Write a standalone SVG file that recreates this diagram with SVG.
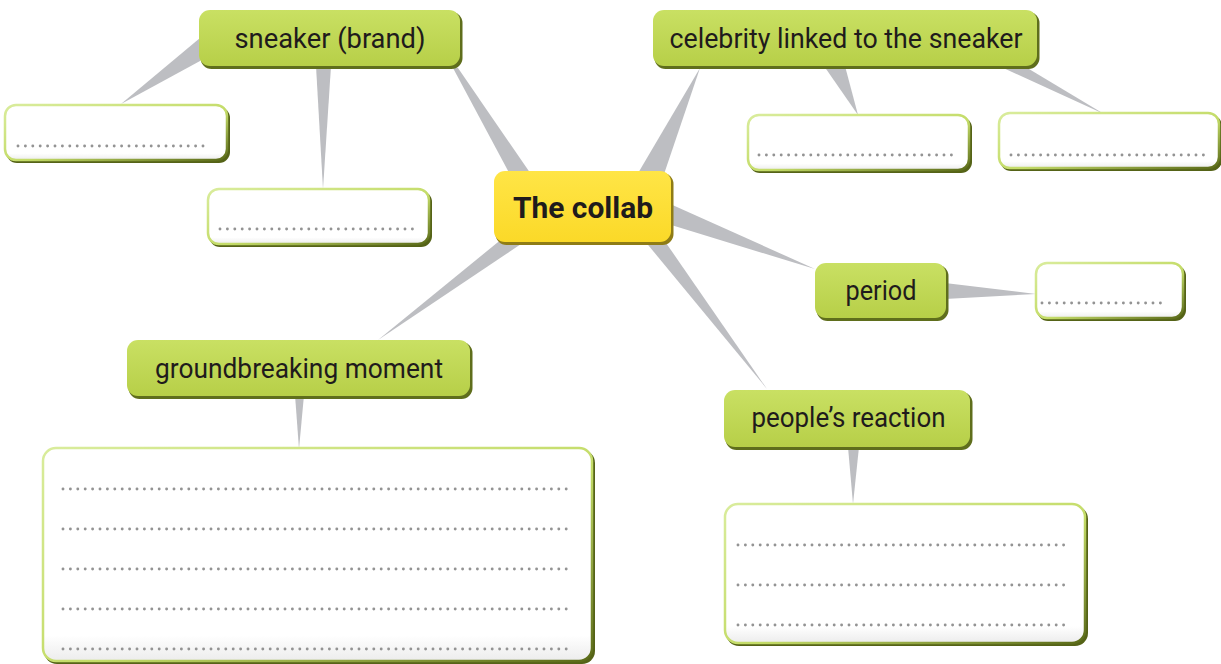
<svg xmlns="http://www.w3.org/2000/svg" width="1221" height="664" viewBox="0 0 1221 664">
<defs>
<linearGradient id="gfill" x1="0" y1="0" x2="0" y2="1">
<stop offset="0" stop-color="#c9e063"/>
<stop offset="1" stop-color="#b7cf48"/>
</linearGradient>
<linearGradient id="yfill" x1="0" y1="0" x2="0" y2="1">
<stop offset="0" stop-color="#ffe546"/>
<stop offset="1" stop-color="#fbd928"/>
</linearGradient>
<linearGradient id="bstroke" x1="0" y1="0" x2="1" y2="1">
<stop offset="0" stop-color="#d9ec9c"/>
<stop offset="0.55" stop-color="#c4dc68"/>
<stop offset="1" stop-color="#5a6a18"/>
</linearGradient>
<linearGradient id="wfill" x1="0" y1="0" x2="0" y2="1">
<stop offset="0" stop-color="#ffffff"/>
<stop offset="0.88" stop-color="#ffffff"/>
<stop offset="1" stop-color="#ececec"/>
</linearGradient>
</defs>
<style>
.wedge{fill:#bdbec2}
.gsh{fill:#5f6e1c}
.g{fill:url(#gfill)}
.ysh{fill:#8f7c16}
.y{fill:url(#yfill)}
.wsh{fill:#556317}
.w{fill:url(#wfill);stroke:url(#bstroke);stroke-width:2.5}
.t{font-family:Roboto,"Liberation Sans",sans-serif;font-size:27px;fill:#1f1b1c;text-anchor:middle}
.tb{font-family:Roboto,"Liberation Sans",sans-serif;font-size:29px;font-weight:bold;fill:#1f1b1c;text-anchor:middle}
.dots{stroke:#939393;stroke-width:2.9;stroke-linecap:round;stroke-dasharray:0 7.4;fill:none}
</style>

<g id="connectors">
<polygon class="wedge" points="200,38 200,61 121,104"/>
<polygon class="wedge" points="316,66 331,66 323,189"/>
<polygon class="wedge" points="453,68 458,68 535,180 513,180"/>
<polygon class="wedge" points="634,180 662,180 700,68"/>
<polygon class="wedge" points="824,66 845,66 858,115"/>
<polygon class="wedge" points="999,66 1024,66 1104,114"/>
<polygon class="wedge" points="668,203 668,224 815,269"/>
<polygon class="wedge" points="945,283 945,299 1036,294"/>
<polygon class="wedge" points="644,240 664,240 767,389"/>
<polygon class="wedge" points="503,238 530,238 378,340"/>
<polygon class="wedge" points="295,395 304,395 299,449"/>
<polygon class="wedge" points="848,447 859,447 853,504"/>
</g>

<g id="collab">
<rect class="ysh" x="495.5" y="173" width="178" height="72" rx="11"/>
<rect class="y" x="494" y="171" width="177" height="71" rx="11"/>
<text class="tb" x="583" y="218" textLength="140" lengthAdjust="spacingAndGlyphs">The collab</text>
</g>

<g id="sneaker">
<rect class="gsh" x="200.5" y="12" width="262" height="57" rx="11"/>
<rect class="g" x="199" y="10" width="261" height="56" rx="11"/>
<text class="t" x="330" y="48" textLength="191" lengthAdjust="spacingAndGlyphs">sneaker (brand)</text>
</g>

<g id="sneaker-box1">
<rect class="wsh" x="6" y="107" width="224" height="56" rx="11"/>
<rect class="w" x="5" y="105" width="222" height="55" rx="11"/>
<line class="dots" x1="18" y1="146" x2="210" y2="146"/>
</g>

<g id="sneaker-box2">
<rect class="wsh" x="209" y="191" width="223" height="56" rx="11"/>
<rect class="w" x="208" y="189" width="221" height="55" rx="11"/>
<line class="dots" x1="220" y1="229" x2="413" y2="229"/>
</g>

<g id="celebrity">
<rect class="gsh" x="654.5" y="12" width="385" height="57" rx="11"/>
<rect class="g" x="653" y="10" width="384" height="56" rx="11"/>
<text class="t" x="846" y="48" textLength="353" lengthAdjust="spacingAndGlyphs">celebrity linked to the sneaker</text>
</g>

<g id="celebrity-box1">
<rect class="wsh" x="749" y="117" width="223" height="56" rx="11"/>
<rect class="w" x="748" y="115" width="221" height="55" rx="11"/>
<line class="dots" x1="759" y1="155" x2="954" y2="155"/>
</g>

<g id="celebrity-box2">
<rect class="wsh" x="1000" y="115" width="222" height="56" rx="11"/>
<rect class="w" x="999" y="113" width="220" height="55" rx="11"/>
<line class="dots" x1="1011" y1="155" x2="1205" y2="155"/>
</g>

<g id="period">
<rect class="gsh" x="816.5" y="265" width="132" height="56" rx="11"/>
<rect class="g" x="815" y="263" width="131" height="55" rx="11"/>
<text class="t" x="881" y="300" textLength="71" lengthAdjust="spacingAndGlyphs">period</text>
</g>

<g id="period-box">
<rect class="wsh" x="1037" y="265" width="149" height="56" rx="11"/>
<rect class="w" x="1036" y="263" width="147" height="55" rx="11"/>
<line class="dots" x1="1042" y1="303" x2="1166" y2="303"/>
</g>

<g id="reaction">
<rect class="gsh" x="725.5" y="392" width="247" height="58" rx="11"/>
<rect class="g" x="724" y="390" width="246" height="57" rx="11"/>
<text class="t" x="848.5" y="427" textLength="194" lengthAdjust="spacingAndGlyphs">people’s reaction</text>
</g>

<g id="reaction-box">
<rect class="wsh" x="726" y="506" width="362" height="140" rx="13"/>
<rect class="w" x="725" y="504" width="360" height="139" rx="13"/>
<line class="dots" x1="738" y1="545" x2="1070" y2="545"/>
<line class="dots" x1="738" y1="585" x2="1070" y2="585"/>
<line class="dots" x1="738" y1="625" x2="1070" y2="625"/>
</g>

<g id="groundbreaking">
<rect class="gsh" x="128.5" y="342" width="344" height="57" rx="11"/>
<rect class="g" x="127" y="340" width="343" height="56" rx="11"/>
<text class="t" x="299" y="378" textLength="288" lengthAdjust="spacingAndGlyphs">groundbreaking moment</text>
</g>

<g id="groundbreaking-box">
<rect class="wsh" x="44" y="450" width="551" height="214" rx="13"/>
<rect class="w" x="43" y="448" width="549" height="213" rx="13"/>
<line class="dots" x1="63" y1="489" x2="572" y2="489"/>
<line class="dots" x1="63" y1="529" x2="572" y2="529"/>
<line class="dots" x1="63" y1="569" x2="572" y2="569"/>
<line class="dots" x1="63" y1="609" x2="572" y2="609"/>
<line class="dots" x1="63" y1="649" x2="572" y2="649"/>
</g>
</svg>
